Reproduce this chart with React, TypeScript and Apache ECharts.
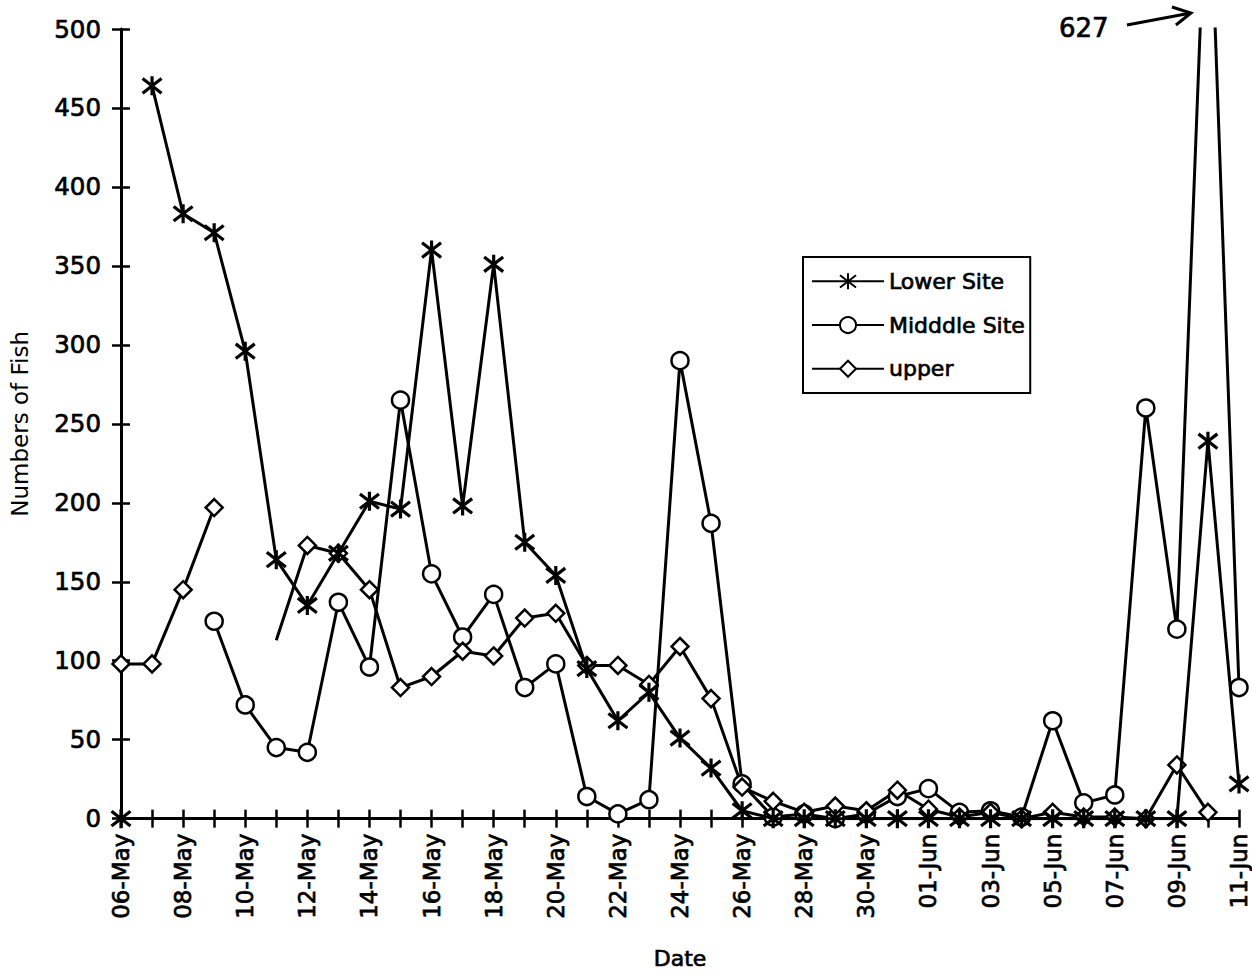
import React, { useEffect, useRef } from 'react';
import * as echarts from 'echarts';

const dates = [
  '06-May', '07-May', '08-May', '09-May', '10-May', '11-May', '12-May', '13-May',
  '14-May', '15-May', '16-May', '17-May', '18-May', '19-May', '20-May', '21-May',
  '22-May', '23-May', '24-May', '25-May', '26-May', '27-May', '28-May', '29-May',
  '30-May', '31-May', '01-Jun', '02-Jun', '03-Jun', '04-Jun', '05-Jun', '06-Jun',
  '07-Jun', '08-Jun', '09-Jun', '10-Jun', '11-Jun',
];

// first lower-site count stands alone (not joined to the next day)
const lowerFirst = [0];
const lowerSite = [
  null, 464, 383, 371, 296, 164, 135, 168, 201, 196, 360, 198, 351, 175, 154, 95,
  62, 80, 51, 32, 5, 0, 0, 0, 0, 0, 0, 0, 0, 0, 0, 0,
  0, 0, 0, 239, 22,
];
const middleSite = [
  null, null, null, 125, 72, 45, 42, 137, 96, 265, 155, 115, 142, 83, 98, 14,
  3, 12, 290, 187, 22, 1, 3, 0, 3, 14, 19, 4, 5, 1, 62, 10,
  15, 260, 120, 627, 83,
];
const upperSite = [
  98, 98, 145, 197, null, 113, 173, 168, 145, 83, 90, 106, 103, 127, 130, 97,
  97, 85, 109, 76, 20, 11, 4, 8, 5, 18, 6, 1, 4, 0, 4, 1,
  1, 0, 34, 4, null,
];
// upper site point drawn without a marker in the original
const upperNoMarker = [5];

const yTicks = { min: 0, max: 500, interval: 50 };
const offScaleLabel = '627';
const offScaleDay = '10-Jun';

const FONT = 'DejaVu Sans';
const asterisk = 'path://M0 0L10 10M10 0L0 10M5 -1.5L5 11.5';

const App: React.FC = () => {
  const chartRef = useRef<HTMLDivElement | null>(null);

  useEffect(() => {
    document.body.style.margin = '0';
    if (!chartRef.current) return;
    const chart = echarts.init(chartRef.current, undefined, { renderer: 'svg' });

    const lineStyle = { color: '#000', width: 3 };
    const lowerMarker = {
      symbol: asterisk,
      symbolSize: 19,
      itemStyle: { color: '#000', borderColor: '#000', borderWidth: 3.2 },
    };
    // heavy print look: normal weight with a thin outline
    const txt = { fontFamily: FONT, color: '#000', textBorderColor: '#000', textBorderWidth: 0.7 };

    chart.setOption({
      animation: false,
      backgroundColor: '#fff',
      textStyle: { fontFamily: FONT, color: '#000' },
      grid: { left: 120, right: 13, top: 29, bottom: 147 },
      legend: {
        orient: 'vertical',
        left: 803,
        top: 257,
        data: ['Lower Site', 'Midddle Site', 'upper'],
        padding: [13, 5, 13, 8],
        itemGap: 21,
        itemWidth: 72,
        itemHeight: 20,
        borderColor: '#000',
        borderWidth: 2,
        borderRadius: 0,
        textStyle: { ...txt, fontSize: 22, lineHeight: 20 },
      },
      xAxis: [
        {
          type: 'category',
          data: dates,
          boundaryGap: false,
          name: 'Date',
          nameLocation: 'middle',
          nameGap: 129,
          nameTextStyle: { ...txt, fontSize: 22 },
          axisLine: { lineStyle: { color: '#000', width: 3 } },
          axisTick: { show: true, interval: 0, length: 9, lineStyle: { color: '#000', width: 2.5 } },
          axisLabel: { ...txt, interval: 1, rotate: 90, margin: 15, fontSize: 23 },
          splitLine: { show: false },
        },
        {
          type: 'category',
          data: dates,
          boundaryGap: false,
          position: 'bottom',
          axisLine: { show: false },
          axisTick: { show: true, inside: true, interval: 0, length: 9, lineStyle: { color: '#000', width: 2.5 } },
          axisLabel: { show: false },
          splitLine: { show: false },
        },
      ],
      yAxis: [
        {
          type: 'value',
          ...yTicks,
          name: 'Numbers of Fish',
          nameLocation: 'middle',
          nameGap: 90,
          nameTextStyle: { fontFamily: FONT, color: '#000', fontSize: 23 },
          axisLine: { show: true, lineStyle: { color: '#000', width: 3 } },
          axisTick: { show: true, length: 9, lineStyle: { color: '#000', width: 2.5 } },
          axisLabel: { ...txt, margin: 20, fontSize: 24.5 },
          splitLine: { show: false },
        },
        {
          type: 'value',
          ...yTicks,
          position: 'left',
          axisLine: { show: false },
          axisTick: { show: true, inside: true, length: 9, lineStyle: { color: '#000', width: 2.5 } },
          axisLabel: { show: false },
          splitLine: { show: false },
        },
      ],
      series: [
        {
          name: 'Lower Site',
          type: 'line',
          data: lowerSite,
          lineStyle,
          ...lowerMarker,
          z: 3,
        },
        {
          name: 'Lower Site',
          type: 'line',
          data: lowerFirst,
          lineStyle,
          ...lowerMarker,
          z: 3,
        },
        {
          name: 'Midddle Site',
          type: 'line',
          data: middleSite,
          lineStyle,
          symbol: 'circle',
          symbolSize: 17,
          itemStyle: { color: '#fff', borderColor: '#000', borderWidth: 2.5 },
          z: 2,
        },
        {
          name: 'upper',
          type: 'line',
          data: upperSite.map((v, i) =>
            upperNoMarker.includes(i) ? { value: v, symbol: 'none' } : v
          ),
          lineStyle,
          symbol: 'diamond',
          symbolSize: [17, 17],
          itemStyle: { color: '#fff', borderColor: '#000', borderWidth: 2.5 },
          z: 2,
        },
      ],
    });

    // annotation for the off-scale middle-site value
    const [px, py] = chart.convertToPixel(
      { xAxisIndex: 0, yAxisIndex: 0 },
      [dates.indexOf(offScaleDay), yTicks.max]
    ) as number[];
    chart.setOption({
      graphic: [
        {
          type: 'text',
          x: px - 149,
          y: py - 14,
          style: {
            text: offScaleLabel,
            fontFamily: FONT,
            fontSize: 26,
            fill: '#000',
            stroke: '#000',
            lineWidth: 0.7,
          },
        },
        {
          type: 'line',
          shape: { x1: px - 81, y1: py - 4, x2: px - 17, y2: py - 16 },
          style: { stroke: '#000', lineWidth: 3 },
        },
        {
          type: 'polyline',
          shape: { points: [[px - 36, py - 22], [px - 17, py - 16], [px - 32, py - 4]] },
          style: { stroke: '#000', lineWidth: 3, fill: 'none' },
        },
      ],
    });

    const resizeHandler = () => chart.resize();
    window.addEventListener('resize', resizeHandler);
    return () => {
      window.removeEventListener('resize', resizeHandler);
      chart.dispose();
    };
  }, []);

  return <div ref={chartRef} style={{ width: '1252px', height: '975px' }} />;
};

export default App;
